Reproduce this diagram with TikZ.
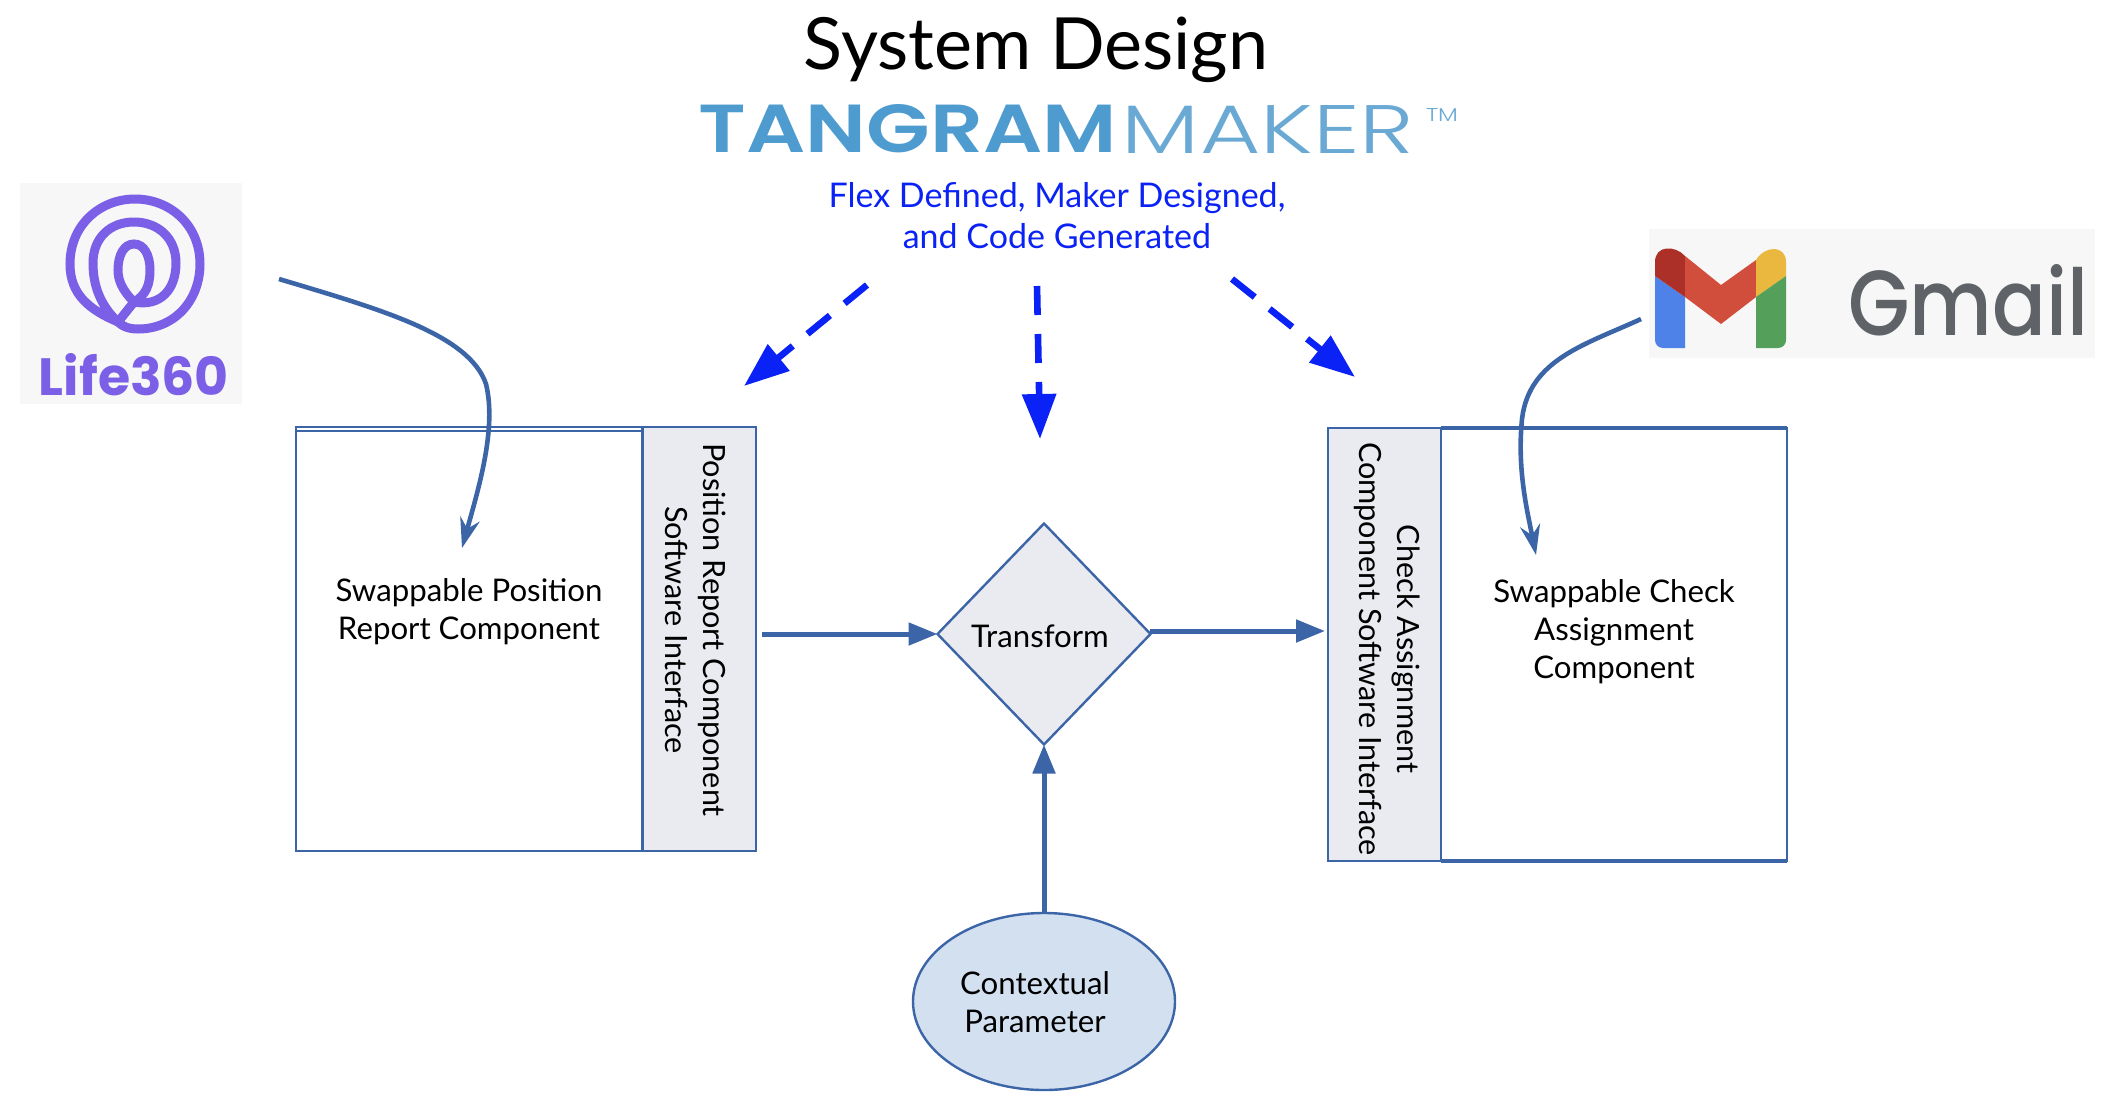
\documentclass[tikz,border=0pt]{standalone}
\usepackage{fontspec}
\usepackage{graphicx}
\setmainfont{Lato}
\newfontfamily\logobold{Poppins SemiBold}
\newfontfamily\lifefont{Poppins}[BoldFont={Poppins Bold}]
\newfontfamily\logolight{Poppins Light}
\newfontfamily\gmailfont{Poppins Medium}
\usetikzlibrary{arrows.meta,shapes.geometric}
\definecolor{edge}{HTML}{3C65A8}
\definecolor{panel}{HTML}{EAEBF0}
\definecolor{oval}{HTML}{D3E0F0}
\definecolor{flex}{HTML}{0A22F5}
\definecolor{logobg}{HTML}{F7F7F7}
\definecolor{lifep}{HTML}{7B5FE6}
\definecolor{tang}{HTML}{4E9BCF}
\definecolor{tangl}{HTML}{6AA9D4}
\definecolor{ggrey}{HTML}{5F6368}
\definecolor{gblue}{HTML}{4F82E8}
\definecolor{gdark}{HTML}{AD3028}
\definecolor{gred}{HTML}{D14D3C}
\definecolor{gyel}{HTML}{EAB83E}
\definecolor{ggreen}{HTML}{54A05A}
\tikzset{
 x=0.5pt,y=-0.5pt,
 boxlook/.style={draw=edge,line width=1.2pt,minimum width=#1,inner sep=0pt,outer sep=0pt},
 label/.style={font=\fontsize{15.6}{19}\selectfont,align=center,inner sep=0pt,text=black},
 sidelabel/.style={font=\fontsize{15.3}{19}\selectfont,align=center,inner sep=0pt,text=black,rotate=-90},
 flow/.style={draw=edge,line width=2.5pt,-{Triangle[length=14.5pt,width=11pt]}},
 curved/.style={draw=edge,line width=2.3pt,-{Stealth[length=15pt,width=10pt,inset=5pt]}},
 gen/.style={draw=flex,line width=3.3pt,dash pattern=on 14.5pt off 9.5pt,-{Triangle[length=22.5pt,width=16.5pt]}},
}
\begin{document}
\begin{tikzpicture}
\useasboundingbox (0,0) rectangle (2112,1098);
\node[font=\fontsize{36}{36}\selectfont,inner sep=0pt] (title) at (1036,50) {System Design};
% tangram logo
\node[inner sep=0pt,text=tang] (tg) at (908,129) {\resizebox{209pt}{24pt}{\logobold TANGRAM}};
\node[inner sep=0pt,text=tangl] (mk) at (1268,129) {\resizebox{146pt}{24pt}{\logolight MAKER}};
\node[inner sep=0pt,text=tangl] (tm) at (1442,115) {\resizebox{16pt}{6.5pt}{\logolight TM}};
\node[font=\fontsize{17}{20.5}\selectfont,align=center,text=flex,inner sep=0pt] (flex) at (1057,216) {Flex Defined, Maker Designed,\\and Code Generated};
% Life360 logo
\node[fill=logobg,minimum width=111pt,minimum height=110.5pt,inner sep=0pt] (lifebox) at (131,293.5) {};
\draw[lifep,line width=4.5pt,line cap=round]
 (118,322) .. controls (90,310) and (70,295) .. (70,264)
 .. controls (70,225) and (100,199) .. (135,199)
 .. controls (170,199) and (200,225) .. (200,264)
 .. controls (200,300) and (175,329) .. (138,329)
 .. controls (128,329) and (122,326) .. (118,322)
 .. controls (100,305) and (93,285) .. (93,263)
 .. controls (93,238) and (110,222) .. (134,222)
 .. controls (158,222) and (176,238) .. (176,263)
 .. controls (176,290) and (160,307) .. (134,302)
 .. controls (122,290) and (118,280) .. (118,270)
 .. controls (118,255) and (124,244) .. (134,244)
 .. controls (144,244) and (150,255) .. (150,270)
 .. controls (150,285) and (146,295) .. (134,302)
 -- (118,322);
\node[inner sep=0pt,text=lifep] (lifetxt) at (134,375) {\resizebox{95pt}{21pt}{\lifefont\bfseries Life360}};
% Gmail logo
\node[fill=logobg,minimum width=223pt,minimum height=64.5pt,inner sep=0pt] (gmailbox) at (1872,293.5) {};
\fill[gblue] (1655,276) -- (1685,297) -- (1685,348) -- (1663,348) .. controls (1658,348) and (1655,344) .. (1655,340) -- cycle;
\fill[gdark] (1655,276) -- (1655,262) .. controls (1655,245) and (1675,245) .. (1685,256) -- (1685,297) -- cycle;
\fill[gred] (1685,256) -- (1721,285) -- (1756,260) -- (1756,297) -- (1721,324) -- (1685,297) -- cycle;
\fill[gyel] (1756,260) .. controls (1765,245) and (1786,245) .. (1786,262) -- (1786,276) -- (1756,297) -- cycle;
\fill[ggreen] (1756,297) -- (1786,276) -- (1786,340) .. controls (1786,344) and (1783,348) .. (1778,348) -- (1756,348) -- cycle;
\node[inner sep=0pt,text=ggrey] (gmailtxt) at (1968,300) {\resizebox{120pt}{35.5pt}{\gmailfont Gmail}};
% left component
\node[boxlook=230pt,minimum height=212pt] (leftouter) at (526,639) {};
\node[boxlook=173.25pt,minimum height=210pt] (leftinner) at (469.25,641) {};
\node[boxlook=56.75pt,minimum height=212pt,fill=panel] (leftband) at (699.25,639) {};
\node[sidelabel] (lefttxt) at (696,630) {Position Report Component\\Software Interface};
\node[label] (swapl) at (469,612) {Swappable Position\\Report Component};
% right component
\node[boxlook=229.5pt,minimum height=216.5pt] (rightouter) at (1557.5,644.5) {};
\node[boxlook=56.5pt,minimum height=216.5pt,fill=panel] (rightband) at (1384.5,644.5) {};
\draw[edge,line width=2pt] (rightband.north east) -- (rightouter.north east);
\draw[edge,line width=2pt] (rightband.south east) -- (rightouter.south east);
\node[sidelabel] (righttxt) at (1387,649) {Check Assignment\\Component Software Interface};
\node[label] (swapr) at (1614,631.5) {Swappable Check\\Assignment\\Component};
% centre
\node[diamond,draw=edge,line width=1.2pt,fill=panel,minimum width=106.5pt,minimum height=110.5pt,inner sep=0pt,outer sep=0pt] (transform) at (1044,634) {};
\node[label] (ttxt) at (1040,636) {Transform};
\node[ellipse,draw=edge,line width=1.2pt,fill=oval,minimum width=131pt,minimum height=88.5pt,inner sep=0pt,outer sep=0pt] (param) at (1044,1001.5) {};
\node[label] (ptxt) at (1035,1002) {Contextual\\Parameter};
% connectors
\coordinate (ls) at (762,634);
\coordinate (rs) at (1150,631);
\coordinate (re) at (1325,631);
\draw[flow] (ls) -- (transform.west);
\draw[flow] (rs) -- (re);
\draw[flow] (param.north) -- (transform.south);
\coordinate (gl) at (867,285); \coordinate (gle) at (744,386);
\coordinate (gm) at (1037,286); \coordinate (gme) at (1040,439);
\coordinate (gr) at (1232,279); \coordinate (gre) at (1355,377);
\draw[gen] (gl) -- (gle);
\draw[gen] (gm) -- (gme);
\draw[gen] (gr) -- (gre);
\coordinate (cl) at (279,279); \coordinate (cle) at (462,548);
\coordinate (cr) at (1641,319); \coordinate (cre) at (1536,555);
\draw[curved] (cl) .. controls (379,309) and (469,334) .. (486,384) .. controls (497,429) and (478,490) .. (cle);
\draw[curved] (cr) .. controls (1587,344) and (1529,359) .. (1522,419) .. controls (1517,469) and (1527,510) .. (cre);
\end{tikzpicture}
\end{document}
